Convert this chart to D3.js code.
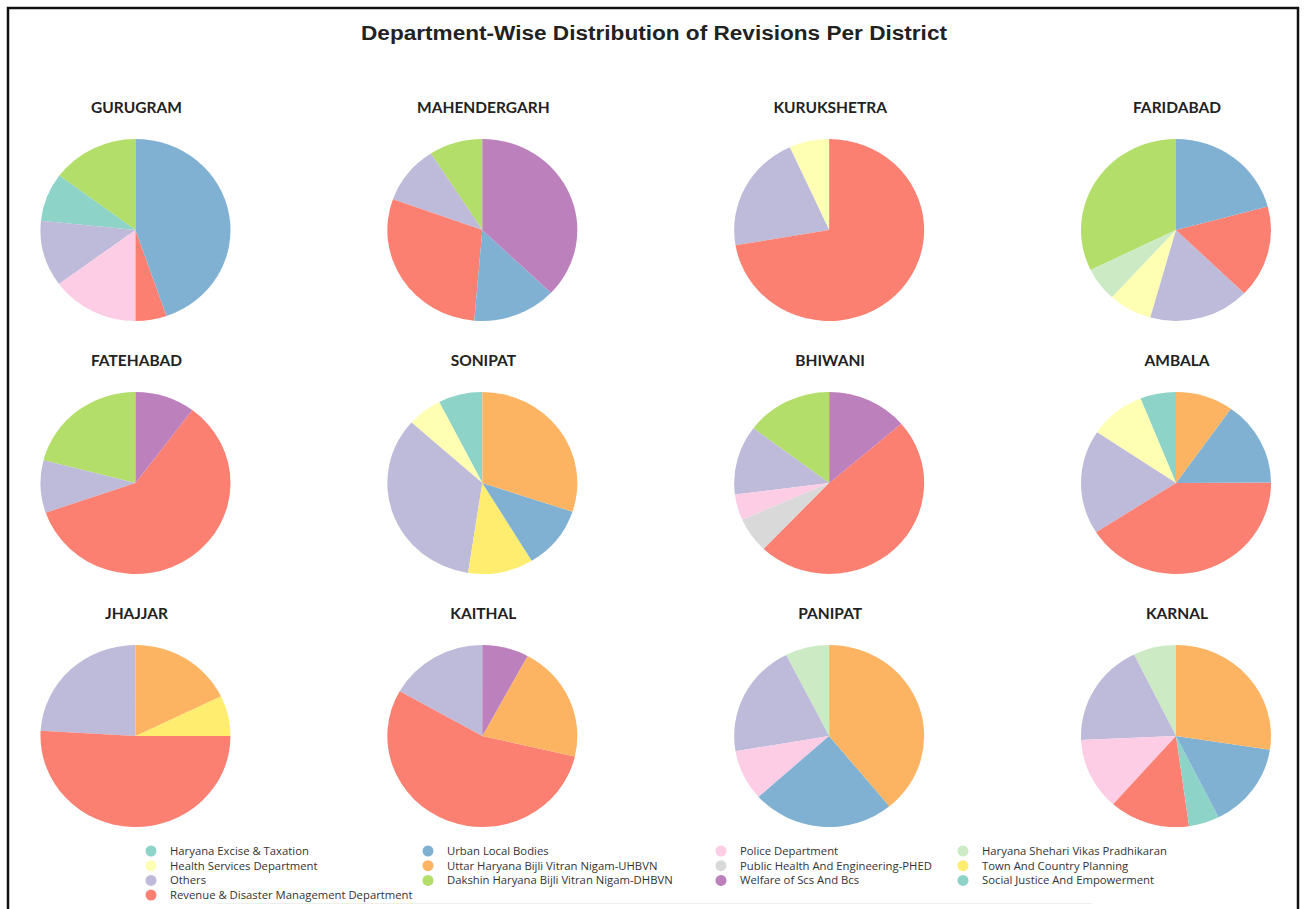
<!DOCTYPE html>
<html>
<head>
<meta charset="utf-8">
<script src="https://cdn.jsdelivr.net/npm/d3@7"></script>
<style>
  body { margin: 0; background: #fff; }
  svg { display: block; }
</style>
</head>
<body>
<div id="chart"></div>
<script>
// Legend / colour order of the departments
const departments = [
  "Haryana Excise & Taxation",
  "Health Services Department",
  "Others",
  "Revenue & Disaster Management Department",
  "Urban Local Bodies",
  "Uttar Haryana Bijli Vitran Nigam-UHBVN",
  "Dakshin Haryana Bijli Vitran Nigam-DHBVN",
  "Police Department",
  "Public Health And Engineering-PHED",
  "Welfare of Scs And Bcs",
  "Haryana Shehari Vikas Pradhikaran",
  "Town And Country Planning",
  "Social Justice And Empowerment"
];

const districts = [
  "GURUGRAM", "MAHENDERGARH", "KURUKSHETRA", "FARIDABAD",
  "FATEHABAD", "SONIPAT", "BHIWANI", "AMBALA",
  "JHAJJAR", "KAITHAL", "PANIPAT", "KARNAL"
];

// share of revisions (%) per department, alphabetical order
const gurugram = [
  ["Dakshin Haryana Bijli Vitran Nigam-DHBVN", 14.8],
  ["Haryana Excise & Taxation", 8.6],
  ["Others", 11.7],
  ["Police Department", 14.9],
  ["Revenue & Disaster Management Department", 5.3],
  ["Urban Local Bodies", 44.7]
];
const mahendergarh = [
  ["Dakshin Haryana Bijli Vitran Nigam-DHBVN", 9.1],
  ["Others", 10.4],
  ["Revenue & Disaster Management Department", 29.1],
  ["Urban Local Bodies", 14.2],
  ["Welfare of Scs And Bcs", 37.1]
];
const kurukshetra = [
  ["Health Services Department", 6.8],
  ["Others", 20.9],
  ["Revenue & Disaster Management Department", 72.3]
];
const faridabad = [
  ["Dakshin Haryana Bijli Vitran Nigam-DHBVN", 32.2],
  ["Haryana Shehari Vikas Pradhikaran", 6.0],
  ["Health Services Department", 7.4],
  ["Others", 17.1],
  ["Revenue & Disaster Management Department", 16.4],
  ["Urban Local Bodies", 20.8]
];
const fatehabad = [
  ["Dakshin Haryana Bijli Vitran Nigam-DHBVN", 21.0],
  ["Others", 9.3],
  ["Revenue & Disaster Management Department", 59.5],
  ["Welfare of Scs And Bcs", 10.2]
];
const sonipat = [
  ["Haryana Excise & Taxation", 7.5],
  ["Health Services Department", 5.9],
  ["Others", 34.2],
  ["Town And Country Planning", 11.1],
  ["Urban Local Bodies", 11.2],
  ["Uttar Haryana Bijli Vitran Nigam-UHBVN", 30.1]
];
const bhiwani = [
  ["Dakshin Haryana Bijli Vitran Nigam-DHBVN", 14.7],
  ["Others", 12.3],
  ["Police Department", 4.6],
  ["Public Health And Engineering-PHED", 6.3],
  ["Revenue & Disaster Management Department", 48.4],
  ["Welfare of Scs And Bcs", 13.7]
];
const ambala = [
  ["Haryana Excise & Taxation", 6.1],
  ["Health Services Department", 9.5],
  ["Others", 18.5],
  ["Revenue & Disaster Management Department", 41.0],
  ["Urban Local Bodies", 15.1],
  ["Uttar Haryana Bijli Vitran Nigam-UHBVN", 9.8]
];
const jhajjar = [
  ["Others", 24.1],
  ["Revenue & Disaster Management Department", 50.9],
  ["Town And Country Planning", 7.2],
  ["Uttar Haryana Bijli Vitran Nigam-UHBVN", 17.8]
];
const kaithal = [
  ["Others", 16.8],
  ["Revenue & Disaster Management Department", 54.6],
  ["Uttar Haryana Bijli Vitran Nigam-UHBVN", 20.7],
  ["Welfare of Scs And Bcs", 7.9]
];
const panipat = [
  ["Haryana Shehari Vikas Pradhikaran", 7.5],
  ["Others", 20.2],
  ["Police Department", 9.0],
  ["Urban Local Bodies", 24.3],
  ["Uttar Haryana Bijli Vitran Nigam-UHBVN", 39.1]
];
const karnal = [
  ["Haryana Shehari Vikas Pradhikaran", 7.3],
  ["Others", 18.4],
  ["Police Department", 12.8],
  ["Revenue & Disaster Management Department", 13.7],
  ["Social Justice And Empowerment", 5.2],
  ["Urban Local Bodies", 15.2],
  ["Uttar Haryana Bijli Vitran Nigam-UHBVN", 27.4]
];

const districtData = [
  gurugram, mahendergarh, kurukshetra, faridabad,
  fatehabad, sonipat, bhiwani, ambala,
  jhajjar, kaithal, panipat, karnal
];

const width = 1304;
const height = 909;

// Set3 wraps around for the 13th department
const color = d3.scaleOrdinal(departments, d3.schemeSet3);

const svg = d3
  .select("#chart")
  .append("svg")
  .attr("width", width)
  .attr("height", height)
  .attr("viewBox", [0, 0, width, height]);

// Frame (open at the bottom, as in the screenshot)
svg
  .append("path")
  .attr("d", `M8,${height} V8 H1298 V${height}`)
  .attr("fill", "none")
  .attr("stroke", "#111")
  .attr("stroke-width", 2.5);

// Title (the screenshot is stretched a bit horizontally)
svg
  .append("text")
  .attr("x", 654)
  .attr("y", 40)
  .attr("text-anchor", "middle")
  .attr("font-family", "'Liberation Sans', Arial, sans-serif")
  .attr("font-size", 20)
  .attr("font-weight", "bold")
  .attr("fill", "#222")
  .attr("textLength", 586)
  .attr("lengthAdjust", "spacingAndGlyphs")
  .text("Department-Wise Distribution of Revisions Per District");

// Grid of pies
const xScale = d3.scalePoint().domain([0, 1, 2, 3]).range([135.5, 1176]);
const yScale = d3.scalePoint().domain([0, 1, 2]).range([230, 736]);

const rx = 95;
const ry = 91;

// first wedge starts at 12 o'clock, going counter-clockwise
const pie = d3
  .pie()
  .sort(null)
  .value((d) => d[1])
  .startAngle(0)
  .endAngle(-2 * Math.PI);

const arc = d3.arc().innerRadius(0).outerRadius(rx);

districts.forEach((name, i) => {
  const cx = xScale(i % 4);
  const cy = yScale(Math.floor(i / 4));

  svg
    .append("text")
    .attr("x", cx + 1)
    .attr("y", cy - 117)
    .attr("text-anchor", "middle")
    .attr("font-family", "Lato, 'Open Sans', sans-serif")
    .attr("font-size", 15.5)
    .attr("font-weight", "bold")
    .attr("fill", "#222")
    .text(name);

  const g = svg
    .append("g")
    .attr("transform", `translate(${cx},${cy}) scale(1,${ry / rx})`);

  g.selectAll("path")
    .data(pie(districtData[i]))
    .join("path")
    .attr("d", arc)
    .attr("fill", (d) => color(d.data[0]));
});

// Legend: 4 columns, column-major
const legendCols = [170, 447, 740, 982];
const legendRow = d3.scaleLinear().domain([0, 1]).range([851, 865.7]);
const perCol = [4, 3, 3, 3];

let k = 0;
perCol.forEach((n, c) => {
  for (let r = 0; r < n; r++, k++) {
    const dept = departments[k];
    const y = legendRow(r);
    svg
      .append("circle")
      .attr("cx", legendCols[c] - 19)
      .attr("cy", y)
      .attr("r", 5.5)
      .attr("fill", color(dept));
    svg
      .append("text")
      .attr("x", legendCols[c])
      .attr("y", y)
      .attr("dy", "0.35em")
      .attr("font-family", "'Open Sans', sans-serif")
      .attr("font-size", 11.3)
      .attr("fill", "#333")
      .text(dept);
  }
});

// faint rule under the legend
svg
  .append("line")
  .attr("x1", 215)
  .attr("x2", 1092)
  .attr("y1", 903.5)
  .attr("y2", 903.5)
  .attr("stroke", "#eee");
</script>
</body>
</html>
